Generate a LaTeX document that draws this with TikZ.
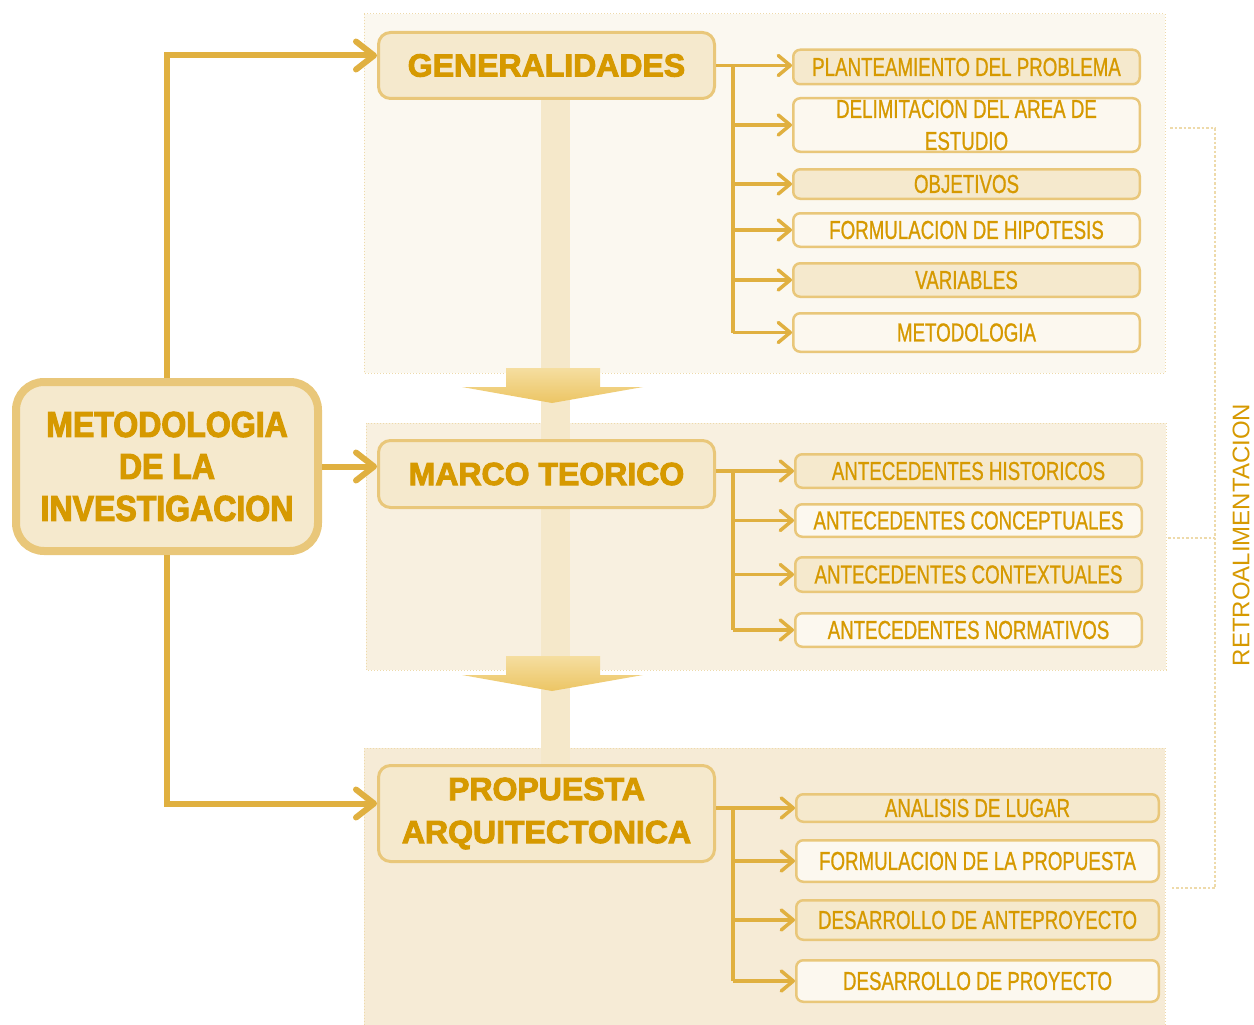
\documentclass[tikz,border=0pt]{standalone}
\usepackage{fontspec}
\setmainfont{Liberation Sans}
\newfontfamily\narrowfont[FakeStretch=0.72,FakeBold=0.8]{Liberation Sans}
\newfontfamily\heavyfont[FakeBold=3]{Liberation Sans Bold}
\newfontfamily\heavynarrow[FakeBold=3,FakeStretch=0.89]{Liberation Sans Bold}
\usepackage{xcolor}
\usepackage{tikz}
\usetikzlibrary{arrows.meta,calc}
\definecolor{goldtext}{RGB}{214,153,0}
\definecolor{goldline}{RGB}{224,176,64}
\definecolor{goldborder}{RGB}{233,199,122}
\definecolor{tanfill}{RGB}{245,233,205}
\definecolor{paperfill}{RGB}{252,248,239}
\definecolor{panelA}{RGB}{251,248,240}
\definecolor{panelB}{RGB}{248,240,224}
\definecolor{panelC}{RGB}{246,235,214}
\definecolor{barfill}{RGB}{245,232,202}
\definecolor{dotline}{RGB}{238,218,170}
\definecolor{arrtop}{RGB}{245,222,160}
\definecolor{arrbot}{RGB}{236,197,100}
\tikzset{
  main_n/.style = {draw=goldborder, line width=8pt, fill=tanfill, rounded corners=28pt, align=center, inner sep=0pt, text=goldtext, font=\heavynarrow\fontsize{36}{42}\selectfont, minimum width=302pt, minimum height=169pt},
  title_n/.style = {draw=goldborder, line width=3pt, fill=tanfill, rounded corners=12pt, align=center, inner sep=0pt, text=goldtext, font=\heavyfont\fontsize{32}{43}\selectfont, minimum width=336pt},
  item_n/.style = {draw=goldborder, line width=2.5pt, rounded corners=7pt, align=center, inner sep=0pt, text=goldtext, font=\narrowfont\fontsize{26}{32}\selectfont, minimum width=346.5pt},
  item_t/.style = {item_n, fill=tanfill},
  item_w/.style = {item_n, fill=paperfill},
  link/.style = {goldline, line width=6pt, -{Straight Barb[length=18pt,width=28pt,line cap=round,line join=round]}},
  trunk/.style = {goldline, line width=3.5pt},
  branch/.style = {trunk, -{Straight Barb[length=12pt,width=20pt,line cap=round,line join=round]}},
  panel/.style = {draw=dotline, dotted, line width=1pt},
  retro/.style = {dotline, dotted, line width=2.5pt},
  down_arr/.style = {top color=arrtop, bottom color=arrbot}
}
\begin{document}
\begin{tikzpicture}[x=1pt,y=-1pt]
\useasboundingbox (0,0) rectangle (1254,1025);
% panels
\fill[panelA] (364,14) rectangle (1165,373);
\draw[panel] (364,14) rectangle (1165,373);
\fill[panelB] (366,423) rectangle (1166,670);
\draw[panel] (366,423) rectangle (1166,670);
\fill[panelC] (364,748) rectangle (1165,1025);
\draw[panel] (364,748) -- (364,1025) (1165,748) -- (1165,1025) (364,748) -- (1165,748);
\fill[barfill] (541,100) rectangle (570,764);
% down arrows
\shade[down_arr] (506,368) -- (600,368) -- (600,387) -- (643,387) -- (552,403) -- (462,387) -- (506,387) -- cycle;
\shade[down_arr] (506,656) -- (600,656) -- (600,675) -- (643,675) -- (552,691) -- (462,675) -- (506,675) -- cycle;

\node[main_n] (meta) at (167,466.5) {METODOLOGIA\\DE LA\\INVESTIGACION};
\node[title_n, minimum height=66pt] (gen) at (546.5,65.5) {GENERALIDADES};
\node[title_n, minimum height=67pt] (marco) at (546.5,474) {MARCO TEORICO};
\node[title_n, minimum height=96pt] (prop) at (546.5,813.5) {PROPUESTA\\ARQUITECTONICA};

% generalidades
\node[item_t, minimum height=34.5pt] (g1) at (966.5,67) {PLANTEAMIENTO DEL PROBLEMA};
\node[item_w, minimum height=53.5pt] (g2) at (966.5,125) {DELIMITACION DEL AREA DE\\ESTUDIO};
\node[item_t, minimum height=29.5pt] (g3) at (966.5,184) {OBJETIVOS};
\node[item_w, minimum height=33.5pt] (g4) at (966.5,230) {FORMULACION DE HIPOTESIS};
\node[item_t, minimum height=33.5pt] (g5) at (966.5,280) {VARIABLES};
\node[item_w, minimum height=38.5pt] (g6) at (966.5,332.5) {METODOLOGIA};
% marco teorico
\node[item_t, minimum height=33.5pt] (m1) at (968.5,471) {ANTECEDENTES HISTORICOS};
\node[item_w, minimum height=32.5pt] (m2) at (968.5,520.5) {ANTECEDENTES CONCEPTUALES};
\node[item_t, minimum height=34.5pt] (m3) at (968.5,574.5) {ANTECEDENTES CONTEXTUALES};
\node[item_w, minimum height=33.5pt] (m4) at (968.5,630) {ANTECEDENTES NORMATIVOS};
% propuesta
\node[item_t, minimum height=27.5pt, minimum width=362.5pt] (p1) at (977.5,808) {ANALISIS DE LUGAR};
\node[item_w, minimum height=41.5pt, minimum width=362.5pt] (p2) at (977.5,861) {FORMULACION DE LA PROPUESTA};
\node[item_t, minimum height=39.5pt, minimum width=362.5pt] (p3) at (977.5,920) {DESARROLLO DE ANTEPROYECTO};
\node[item_w, minimum height=41.5pt, minimum width=362.5pt] (p4) at (977.5,981) {DESARROLLO DE PROYECTO};

% main links
\draw[link] (meta.north) |- ([yshift=10pt]gen.west);
\draw[link] (meta.east) -- (meta.east -| marco.west);
\draw[link] (meta.south) |- ([yshift=10pt]prop.west);

% branches
\coordinate (gj) at ([xshift=17pt]gen.east);
\draw[trunk] (gj) -- (gj |- g6.west);
\draw[branch] (gen.east) -- (gen.east -| g1.west);
\draw[branch] (gj |- g2.west) -- (g2.west);
\draw[branch] (gj |- g3.west) -- (g3.west);
\draw[branch] (gj |- g4.west) -- (g4.west);
\draw[branch] (gj |- g5.west) -- (g5.west);
\draw[branch] (gj |- g6.west) -- (g6.west);

\coordinate (mj) at ([xshift=17pt]marco.east |- m1.west);
\draw[trunk] (mj) -- (mj |- m4.west);
\draw[branch] (marco.east |- m1.west) -- (m1.west);
\draw[branch] (mj |- m2.west) -- (m2.west);
\draw[branch] (mj |- m3.west) -- (m3.west);
\draw[branch] (mj |- m4.west) -- (m4.west);

\coordinate (pj) at ([xshift=17pt]prop.east |- p1.west);
\draw[trunk] (pj) -- (pj |- p4.west);
\draw[branch] (prop.east |- p1.west) -- (p1.west);
\draw[branch] (pj |- p2.west) -- (p2.west);
\draw[branch] (pj |- p3.west) -- (p3.west);
\draw[branch] (pj |- p4.west) -- (p4.west);

% retroalimentacion
\coordinate (rt) at (1170,128);
\coordinate (rb) at (1170,888);
\draw[retro] (rt) -| (1215,888) -- (rb);
\draw[retro] (1168,538) -- (1215,538);
\node[rotate=90, text=goldtext, font=\fontsize{24}{28}\selectfont] (retro) at (1241,535) {RETROALIMENTACION};
\end{tikzpicture}
\end{document}
